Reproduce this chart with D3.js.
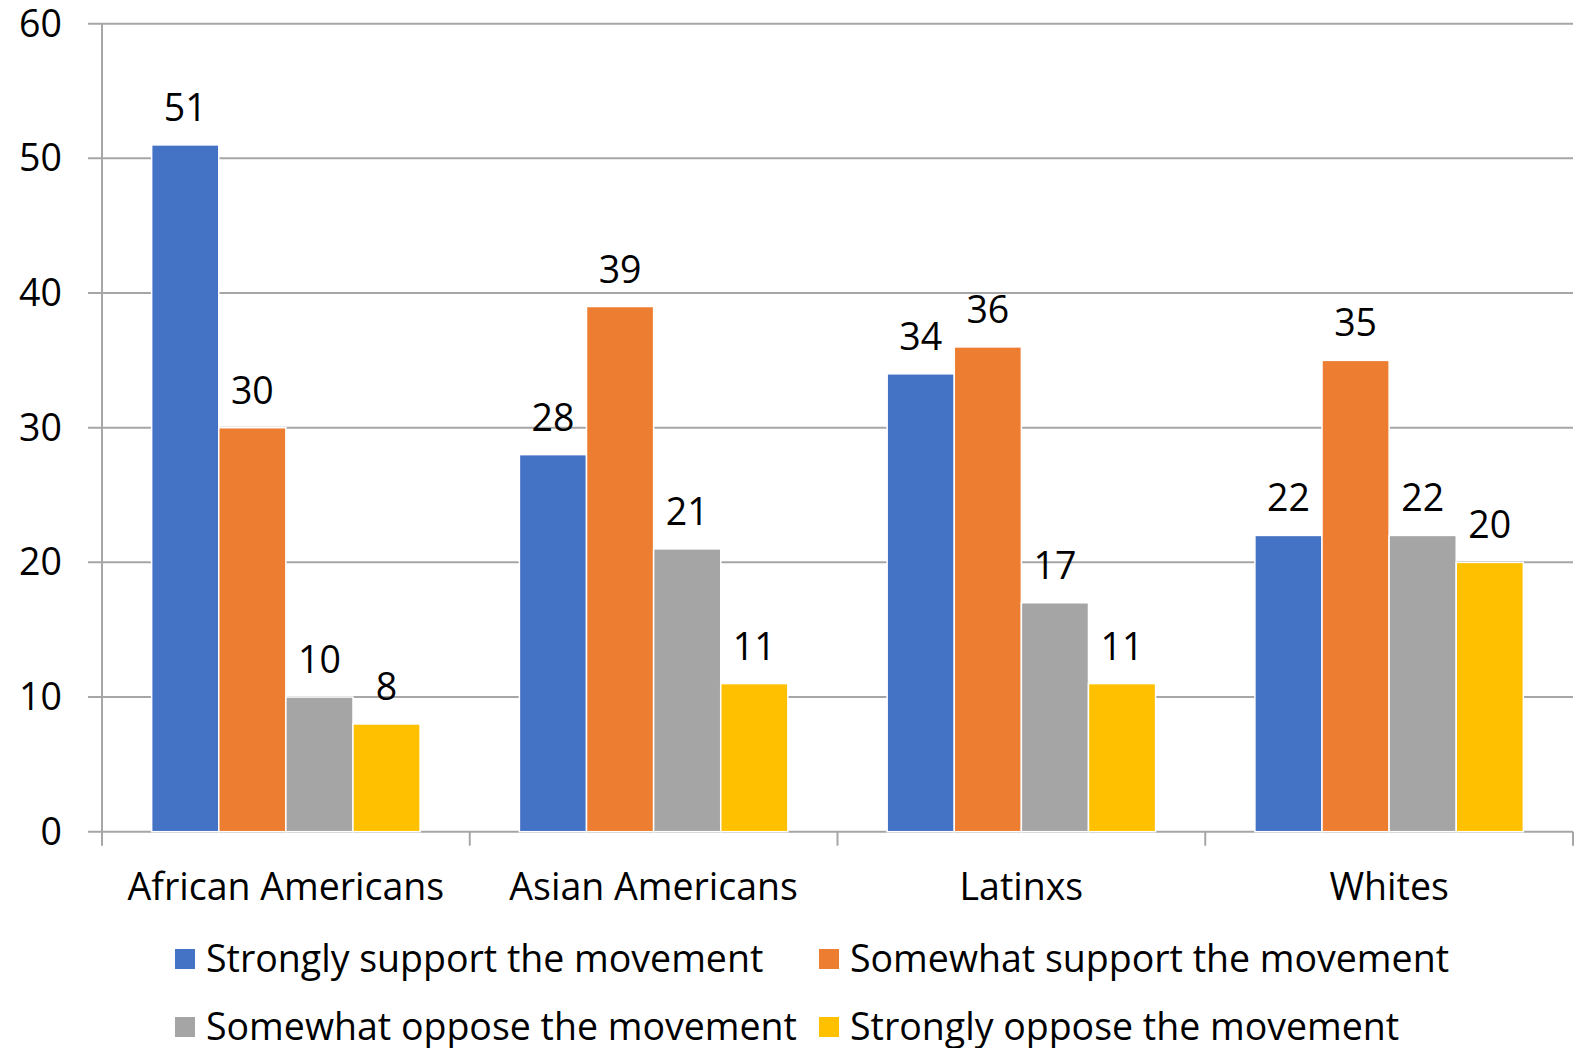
<!DOCTYPE html>
<html>
<head>
<meta charset="utf-8">
<script src="https://cdn.jsdelivr.net/npm/d3@7"></script>
<style>
  html, body { margin: 0; padding: 0; background: #fff; }
  svg { display: block; }
  text { font-family: "Open Sans", Lato, sans-serif; fill: #000; }
</style>
</head>
<body>
<svg id="chart" width="1578" height="1048"></svg>
<script>
const categories = ["African Americans", "Asian Americans", "Latinxs", "Whites"];
const seriesNames = ["Strongly support the movement", "Somewhat support the movement", "Somewhat oppose the movement", "Strongly oppose the movement"];
const stronglySupport = [51, 28, 34, 22];
const somewhatSupport = [30, 39, 36, 35];
const somewhatOppose = [10, 21, 17, 22];
const stronglyOppose = [8, 11, 11, 20];
const yTicks = [0, 10, 20, 30, 40, 50, 60];
const colors = ["#4472C4", "#ED7D31", "#A5A5A5", "#FFC000"];

const seriesValues = [stronglySupport, somewhatSupport, somewhatOppose, stronglyOppose];

const svg = d3.select("#chart");
const plotLeft = 102, plotRight = 1573, plotTop = 23.7, plotBottom = 831.7;
const fontSize = 37.5;

const x0 = d3.scaleBand().domain(categories).range([plotLeft, plotRight]).paddingInner(0).paddingOuter(0);
const x1 = d3.scaleBand().domain(d3.range(4)).range([0, x0.bandwidth()]).paddingOuter(0.74).paddingInner(0);
const y = d3.scaleLinear().domain([0, 60]).range([plotBottom, plotTop]);

// gridlines
svg.append("g")
  .selectAll("line")
  .data(yTicks)
  .join("line")
  .attr("x1", plotLeft - 14).attr("x2", plotRight)
  .attr("y1", d => y(d)).attr("y2", d => y(d))
  .attr("stroke", "#a6a6a6").attr("stroke-width", 2);

// y axis line
svg.append("line")
  .attr("x1", plotLeft).attr("x2", plotLeft)
  .attr("y1", plotTop).attr("y2", plotBottom + 14)
  .attr("stroke", "#a6a6a6").attr("stroke-width", 2);

// category ticks
const tickXs = categories.slice(1).map(d => x0(d)).concat([plotRight]);
svg.append("g")
  .selectAll("line")
  .data(tickXs)
  .join("line")
  .attr("x1", d => d).attr("x2", d => d)
  .attr("y1", plotBottom).attr("y2", plotBottom + 14)
  .attr("stroke", "#a6a6a6").attr("stroke-width", 2);

// y tick labels
svg.append("g")
  .selectAll("text")
  .data(yTicks)
  .join("text")
  .attr("x", 62)
  .attr("y", d => y(d))
  .attr("dy", "0.35em")
  .attr("text-anchor", "end")
  .attr("font-size", fontSize)
  .text(d => d);

// bars
const groups = svg.append("g")
  .selectAll("g")
  .data(categories)
  .join("g")
  .attr("transform", d => `translate(${x0(d)},0)`);

groups.each(function(cat, ci) {
  const g = d3.select(this);
  const vals = seriesValues.map((s, si) => ({ si, v: s[ci] }));
  g.selectAll("rect")
    .data(vals)
    .join("rect")
    .attr("x", d => x1(d.si))
    .attr("width", x1.bandwidth())
    .attr("y", d => y(d.v))
    .attr("height", d => y(0) - y(d.v))
    .attr("fill", d => colors[d.si])
    .attr("stroke", "#ffffff")
    .attr("stroke-width", 1.5);
  g.selectAll("text")
    .data(vals)
    .join("text")
    .attr("x", d => x1(d.si) + x1.bandwidth() / 2)
    .attr("y", d => y(d.v) - 24)
    .attr("text-anchor", "middle")
    .attr("font-size", fontSize)
    .text(d => d.v);
});

// category labels
svg.append("g")
  .selectAll("text")
  .data(categories)
  .join("text")
  .attr("x", d => x0(d) + x0.bandwidth() / 2)
  .attr("y", 887)
  .attr("dy", "0.35em")
  .attr("text-anchor", "middle")
  .attr("font-size", fontSize)
  .text(d => d);

// legend
const legendPos = [
  { x: 175, y: 959 },
  { x: 819, y: 959 },
  { x: 175, y: 1027 },
  { x: 819, y: 1027 }
];
const legend = svg.append("g")
  .selectAll("g")
  .data(seriesNames)
  .join("g")
  .attr("transform", (d, i) => `translate(${legendPos[i].x},${legendPos[i].y})`);
legend.append("rect")
  .attr("x", 0).attr("y", -10)
  .attr("width", 20).attr("height", 20)
  .attr("fill", (d, i) => colors[i]);
legend.append("text")
  .attr("x", 31)
  .attr("y", 0)
  .attr("dy", "0.35em")
  .attr("font-size", fontSize)
  .text(d => d);
</script>
</body>
</html>
